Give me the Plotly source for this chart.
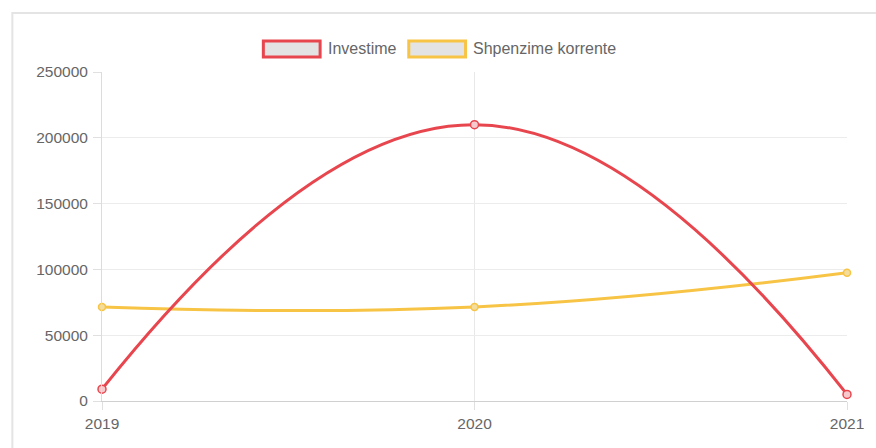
import plotly.graph_objects as go

years = [2019, 2020, 2021]
investime = [9000, 210000, 5000]
shpenzime = [71500, 71500, 97500]
series_names = ["Investime", "Shpenzime korrente"]
red = "#e8464e"
yellow = "#f7c446"

W, H = 876, 448
L, R, T, B = 102, 26, 72, 47
pw, ph = W - L - R, H - T - B

def px_x(p):
    return (p - L) / pw

def px_y(p):
    return (H - B - p) / ph

fig = go.Figure()
fig.add_trace(go.Scatter(
    x=years, y=shpenzime, name=series_names[1], mode="lines+markers",
    line=dict(color=yellow, width=3, shape="spline", smoothing=1.3),
    marker=dict(size=7, color="#f3dc9c", line=dict(color=yellow, width=1.5)),
    cliponaxis=False))
fig.add_trace(go.Scatter(
    x=years, y=investime, name=series_names[0], mode="lines+markers",
    line=dict(color=red, width=3, shape="spline", smoothing=1.3),
    marker=dict(size=8, color="#f6c9cc", line=dict(color=red, width=1.5)),
    cliponaxis=False))

shapes = [
    dict(type="rect", xref="paper", yref="paper",
         x0=px_x(12), x1=px_x(884), y0=px_y(470), y1=px_y(13),
         line=dict(color="#e4e4e4", width=2), fillcolor="rgba(0,0,0,0)", layer="below"),
]
annotations = []
legend_items = [(series_names[0], red, 264, 321, 327), (series_names[1], yellow, 410, 467, 472)]
for name, col, bx0, bx1, tx in legend_items:
    shapes.append(dict(type="rect", xref="paper", yref="paper",
                       x0=px_x(bx0), x1=px_x(bx1), y0=px_y(57), y1=px_y(41),
                       line=dict(color=col, width=3), fillcolor="#e3e3e3"))
    annotations.append(dict(text=name, xref="paper", yref="paper",
                            x=px_x(tx), y=px_y(48.5), xanchor="left", yanchor="middle",
                            showarrow=False, font=dict(size=16, color="#666")))

fig.update_layout(
    width=W, height=H,
    margin=dict(l=L, r=R, t=T, b=B),
    paper_bgcolor="white", plot_bgcolor="white",
    showlegend=False,
    font=dict(family="Liberation Sans, Arial, sans-serif", size=15.5, color="#666"),
    shapes=shapes, annotations=annotations,
    xaxis=dict(range=[2019, 2021], tickvals=years, ticktext=[str(y) for y in years],
               showgrid=True, gridcolor="#e8e8e8", gridwidth=1,
               ticks="outside", ticklen=8, tickcolor="#e0e0e0",
               showline=True, linecolor="#d0d0d0", zeroline=False, fixedrange=True),
    yaxis=dict(range=[0, 250000], dtick=50000, tickformat="d",
               showgrid=True, gridcolor="#ececec", gridwidth=1,
               ticks="outside", ticklen=8, tickcolor="#e0e0e0", ticklabelstandoff=2,
               showline=True, linecolor="#dcdcdc", zeroline=True, zerolinecolor="#c8c8c8",
               zerolinewidth=1, fixedrange=True),
)

fig.write_html("out.html", config={"displayModeBar": False},
               post_script="document.body.style.margin='0';document.body.style.overflow='hidden';")
